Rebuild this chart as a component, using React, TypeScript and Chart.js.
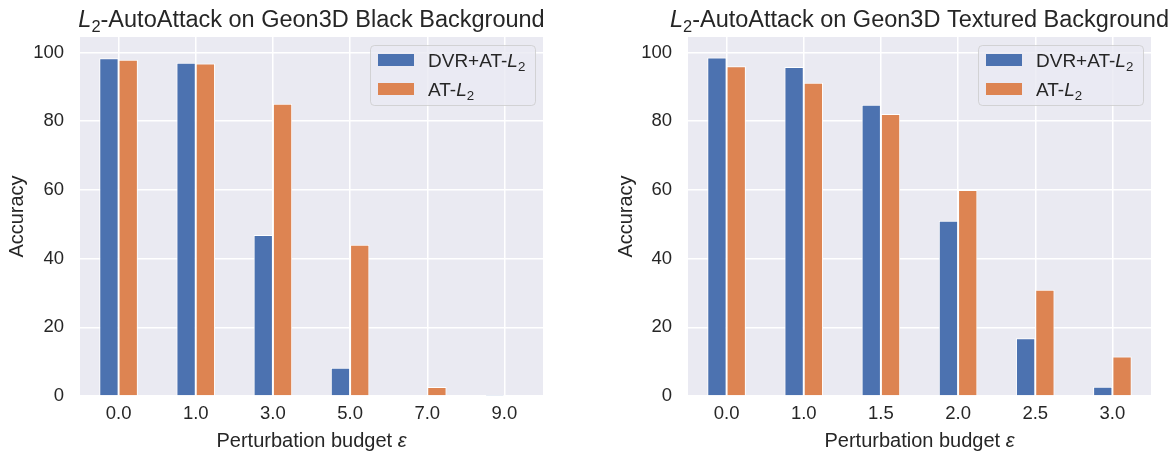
import React, { useEffect, useRef } from "react";
import { Chart, registerables } from "chart.js";

Chart.register(...registerables);

// ---------- data ----------
const leftCategories = ["0.0", "1.0", "3.0", "5.0", "7.0", "9.0"];
const leftDVR = [98.3, 97.0, 46.9, 8.2, 0.2, 0.1];
const leftAT = [97.9, 96.8, 85.1, 44.0, 2.6, 0.2];

const rightCategories = ["0.0", "1.0", "1.5", "2.0", "2.5", "3.0"];
const rightDVR = [98.5, 95.8, 84.8, 51.0, 16.8, 2.7];
const rightAT = [96.0, 91.2, 82.1, 60.0, 30.9, 11.5];

const yTicks = [0, 20, 40, 60, 80, 100];
const seriesNames = ["DVR+AT-L2", "AT-L2"];

// ---------- style ----------
const FAMILY = '"Liberation Sans", Arial, Helvetica, sans-serif';
const TEXT = "#262626";
const BLUE = "#4C72B0";
const ORANGE = "#DD8452";
const BG = "#EAEAF2";

type Seg = { t: string; it?: boolean; sub?: boolean };

function segFont(s: Seg, size: number) {
  return `${s.it ? "italic " : ""}${s.sub ? size * 0.7 : size}px ${FAMILY}`;
}
function measureRich(ctx: CanvasRenderingContext2D, segs: Seg[], size: number) {
  let w = 0;
  for (const s of segs) {
    ctx.font = segFont(s, size);
    w += ctx.measureText(s.t).width;
  }
  return w;
}
function drawRich(
  ctx: CanvasRenderingContext2D,
  segs: Seg[],
  x: number,
  y: number,
  size: number,
  align: "center" | "left"
) {
  const w = measureRich(ctx, segs, size);
  let cx = align === "center" ? x - w / 2 : x;
  ctx.textAlign = "left";
  ctx.textBaseline = "alphabetic";
  ctx.fillStyle = TEXT;
  for (const s of segs) {
    ctx.font = segFont(s, size);
    ctx.fillText(s.t, cx, y + (s.sub ? size * 0.22 : 0));
    cx += ctx.measureText(s.t).width;
  }
}

function labelSegs(name: string): Seg[] {
  const base = name.slice(0, -2);
  return [{ t: base }, { t: "L", it: true }, { t: "2", sub: true }];
}

const decorPlugin = {
  id: "decor",
  beforeDraw(chart: any) {
    const { ctx, chartArea: a } = chart;
    ctx.save();
    ctx.fillStyle = BG;
    ctx.fillRect(a.left, a.top, a.right - a.left, a.bottom - a.top);
    ctx.restore();
  },
  afterDraw(chart: any, _args: any, opts: any) {
    const { ctx, chartArea: a } = chart;
    ctx.save();
    const cx = (a.left + a.right) / 2;
    drawRich(
      ctx,
      [{ t: "L", it: true }, { t: "2", sub: true }, { t: opts.titleRest }],
      cx,
      27,
      23.5,
      "center"
    );
    drawRich(ctx, [{ t: "Perturbation budget " }, { t: "ε", it: true }], cx, 447, 20, "center");
    const bw = 165;
    const bh = 60;
    const bx = a.right - 8 - bw;
    const by = a.top + 8;
    ctx.beginPath();
    (ctx as any).roundRect(bx + 0.5, by + 0.5, bw, bh, 4);
    ctx.fillStyle = "rgba(234,234,242,0.8)";
    ctx.fill();
    ctx.strokeStyle = "rgba(204,204,204,0.8)";
    ctx.lineWidth = 1;
    ctx.stroke();
    const colors = [BLUE, ORANGE];
    seriesNames.forEach((n, i) => {
      const ry = by + 15 + i * 29;
      ctx.fillStyle = colors[i];
      ctx.fillRect(bx + 8, ry - 6, 36, 12);
      drawRich(ctx, labelSegs(n), bx + 58, ry + 7, 19, "left");
    });
    ctx.restore();
  },
};

type Props = {
  categories: string[];
  dvr: number[];
  at: number[];
  titleRest: string;
  left: number;
  width: number;
  padLeft: number;
  padRight: number;
  yWidth: number;
};

function BarChart(p: Props) {
  const ref = useRef<HTMLCanvasElement>(null);
  useEffect(() => {
    const chart = new Chart(ref.current!, {
      type: "bar",
      data: {
        labels: p.categories,
        datasets: [
          {
            label: seriesNames[0],
            data: p.dvr,
            backgroundColor: BLUE,
            borderColor: "#ffffff",
            borderWidth: 1,
          },
          {
            label: seriesNames[1],
            data: p.at,
            backgroundColor: ORANGE,
            borderColor: "#ffffff",
            borderWidth: 1,
          },
        ],
      },
      options: {
        animation: false,
        responsive: false,
        devicePixelRatio: 1,
        layout: { padding: { top: 37, right: p.padRight, bottom: 0, left: p.padLeft } },
        datasets: { bar: { categoryPercentage: 0.5, barPercentage: 1.0 } },
        plugins: {
          legend: { display: false },
          tooltip: { enabled: false },
          title: { display: false },
          decor: { titleRest: p.titleRest },
        } as any,
        scales: {
          x: {
            offset: true,
            grid: { offset: false, color: "#ffffff", lineWidth: 1.5, drawTicks: false },
            border: { display: false },
            ticks: {
              color: TEXT,
              font: { family: FAMILY, size: 18.5 },
              padding: 7,
              maxRotation: 0,
            },
            afterFit: (s: any) => {
              s.height = 58;
            },
          },
          y: {
            min: 0,
            max: 104.5,
            grid: { color: "#ffffff", lineWidth: 1.5, drawTicks: false },
            border: { display: false },
            ticks: {
              color: TEXT,
              font: { family: FAMILY, size: 18.5 },
              padding: 16,
            },
            title: {
              display: true,
              text: "Accuracy",
              color: TEXT,
              font: { family: FAMILY, size: 20 },
              padding: { top: 5, bottom: 0 },
            },
            afterBuildTicks: (s: any) => {
              s.ticks = yTicks.map((v) => ({ value: v }));
            },
            afterFit: (s: any) => {
              s.width = p.yWidth;
            },
          },
        },
      },
      plugins: [decorPlugin],
    });
    return () => chart.destroy();
  }, []);
  return (
    <canvas
      ref={ref}
      width={p.width}
      height={454}
      style={{ position: "absolute", left: p.left, top: 0, width: p.width, height: 454 }}
    />
  );
}

export default function App() {
  return (
    <div
      style={{
        position: "fixed",
        left: 0,
        top: 0,
        width: 1169,
        height: 454,
        background: "#ffffff",
        overflow: "hidden",
      }}
    >
      <BarChart
        categories={leftCategories}
        dvr={leftDVR}
        at={leftAT}
        titleRest="-AutoAttack on Geon3D Black Background"
        left={0}
        width={584}
        padLeft={0}
        padRight={41}
        yWidth={80}
      />
      <BarChart
        categories={rightCategories}
        dvr={rightDVR}
        at={rightAT}
        titleRest="-AutoAttack on Geon3D Textured Background"
        left={584}
        width={585}
        padLeft={25}
        padRight={18}
        yWidth={79}
      />
    </div>
  );
}
